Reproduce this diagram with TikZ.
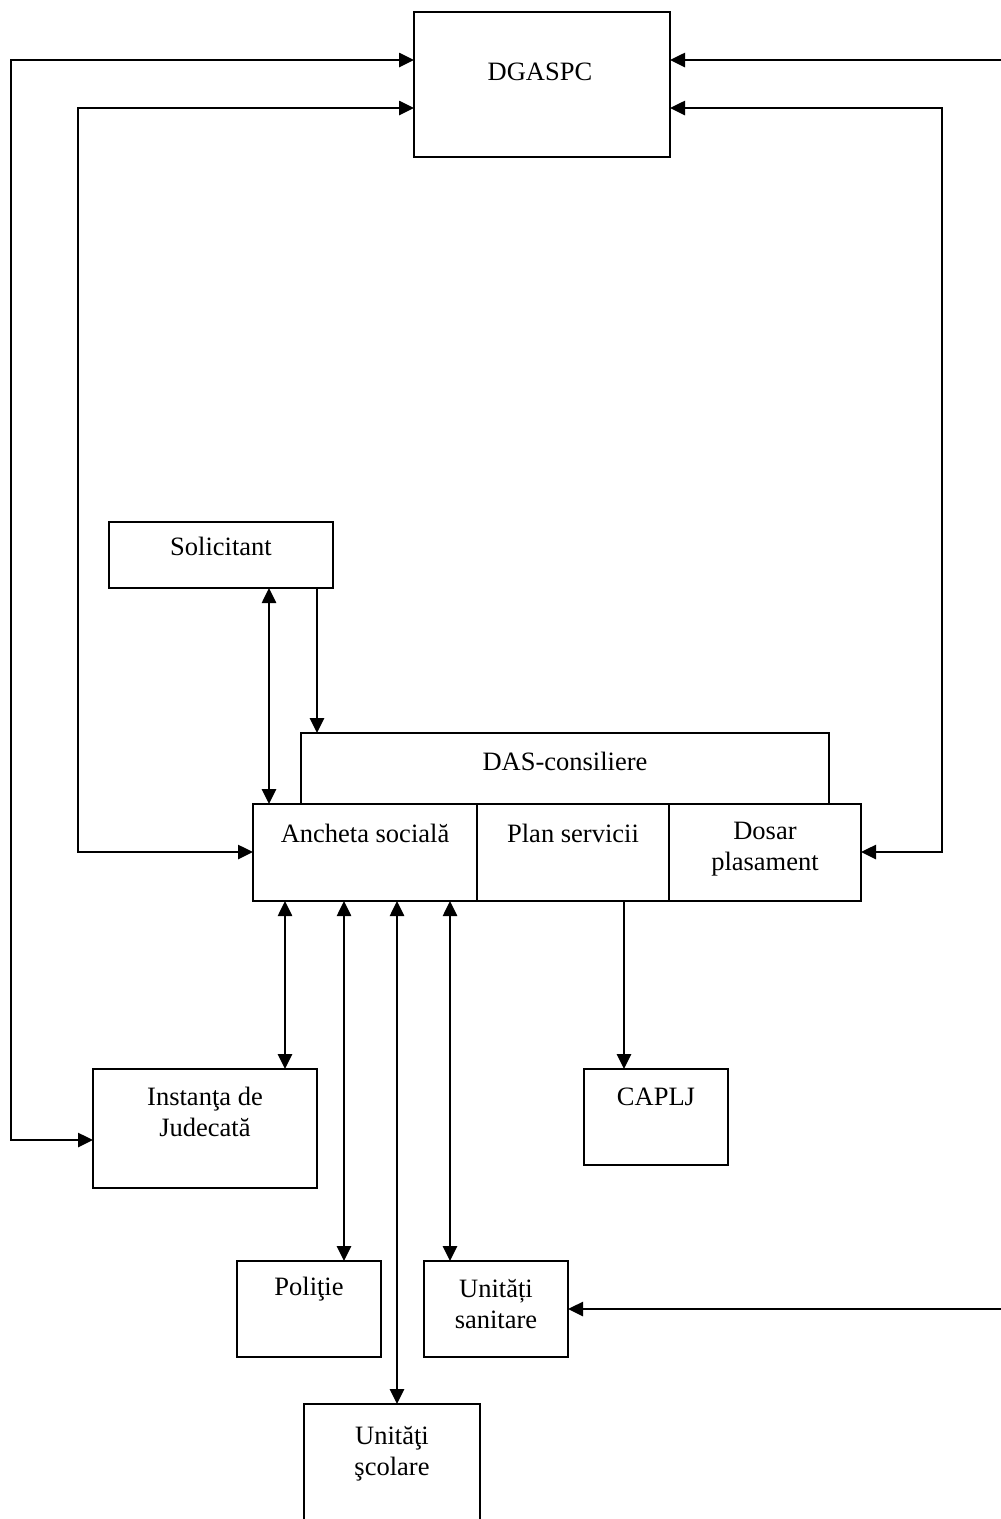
\documentclass[tikz,border=0pt]{standalone}
\usepackage{fontspec}
\setmainfont{Liberation Serif}
\usetikzlibrary{arrows.meta}
\begin{document}
\begin{tikzpicture}[x=1pt,y=-1pt,
  box/.style={draw,line width=1.7pt,inner sep=0pt,outer sep=0pt,anchor=north west,fill=none},
  txt/.style={inner sep=0pt,font=\fontsize{26.5}{31}\selectfont,align=center},
  conn/.style={line width=2.6pt},
  one/.style={conn,-{Triangle[length=15pt,width=14pt]}},
  two/.style={conn,{Triangle[length=15pt,width=14pt]}-{Triangle[length=15pt,width=14pt]}}]
\useasboundingbox (0,0) rectangle (1001,1519);
\clip (0,0) rectangle (1001,1519);
\fill[white] (0,0) rectangle (1001,1519);
% boxes
\node[box,minimum width=256pt,minimum height=145pt] (dgaspc) at (414,12) {};
\node[box,minimum width=224pt,minimum height=66pt] (solic) at (109,522) {};
\node[box,minimum width=528pt,minimum height=71pt] (das) at (301,733) {};
\node[box,minimum width=224pt,minimum height=97pt] (anch) at (253,804) {};
\node[box,minimum width=192pt,minimum height=97pt] (plan) at (477,804) {};
\node[box,minimum width=192pt,minimum height=97pt] (dosar) at (669,804) {};
\node[box,minimum width=224pt,minimum height=119pt] (inst) at (93,1069) {};
\node[box,minimum width=144pt,minimum height=96pt] (caplj) at (584,1069) {};
\node[box,minimum width=144pt,minimum height=96pt] (pol) at (237,1261) {};
\node[box,minimum width=144pt,minimum height=96pt] (sanit) at (424,1261) {};
\node[box,minimum width=176pt,minimum height=140pt] (scol) at (304,1404) {};
% texts
\node[txt] (dgaspc-t) at (540,72) {DGASPC};
\node[txt] (solic-t) at (221,546) {Solicitant};
\node[txt] (das-t) at (565,761) {DAS-consiliere};
\node[txt] (anch-t) at (365,833) {Ancheta socială};
\node[txt] (plan-t) at (573,833) {Plan servicii};
\node[txt] (dosar-t) at (765,849) {Dosar\\plasament};
\node[txt] (inst-t) at (205,1112) {Instanţa de\\Judecată};
\node[txt] (caplj-t) at (656,1097) {CAPLJ};
\node[txt] (pol-t) at (309,1289) {Poliţie};
\node[txt] (sanit-t) at (496,1304) {Unități\\sanitare};
\node[txt] (scol-t) at (392,1454) {Unităţi\\şcolare};
% routing coordinates
\coordinate (l1t) at (11,60);
\coordinate (l1b) at (11,1140);
\coordinate (l2t) at (78,108);
\coordinate (l2b) at (78,852);
\coordinate (r1t) at (1004,60);
\coordinate (r1b) at (1004,1309);
\coordinate (r2t) at (942,108);
\coordinate (r2b) at (942,852);
\coordinate (xs1) at (269,0);
\coordinate (xs2) at (317,0);
\coordinate (xd1) at (285,0);
\coordinate (xd2) at (344,0);
\coordinate (xd3) at (397,0);
\coordinate (xd4) at (450,0);
\coordinate (xp) at (624,0);
% connectors
\draw[two] (dgaspc.west |- l1t) -- (l1t) -- (l1b) -- (inst.west |- l1b);
\draw[two] (dgaspc.west |- l2t) -- (l2t) -- (l2b) -- (anch.west |- l2b);
\draw[two] (dgaspc.east |- r1t) -- (r1t) -- (r1b) -- (sanit.east |- r1b);
\draw[two] (dgaspc.east |- r2t) -- (r2t) -- (r2b) -- (dosar.east |- r2b);
\draw[two] (solic.south -| xs1) -- (anch.north -| xs1);
\draw[one] (solic.south -| xs2) -- (das.north -| xs2);
\draw[two] (anch.south -| xd1) -- (inst.north -| xd1);
\draw[two] (anch.south -| xd2) -- (pol.north -| xd2);
\draw[two] (anch.south -| xd3) -- (scol.north -| xd3);
\draw[two] (anch.south -| xd4) -- (sanit.north -| xd4);
\draw[one] (plan.south -| xp) -- (caplj.north -| xp);
\end{tikzpicture}
\end{document}
